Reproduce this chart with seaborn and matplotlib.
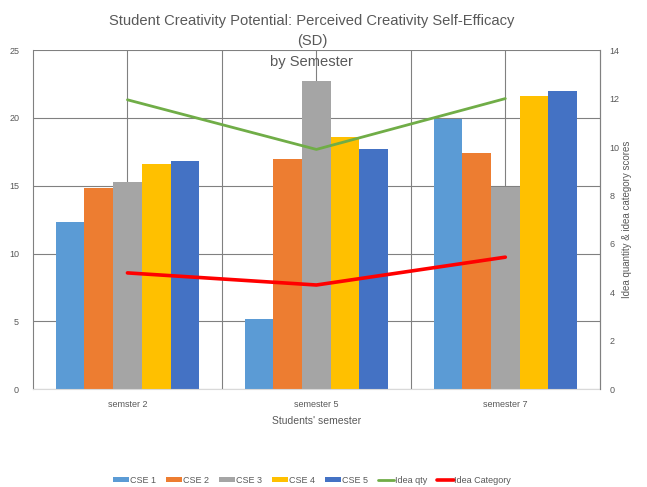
import matplotlib
matplotlib.use("Agg")
import matplotlib.pyplot as plt
from matplotlib.patches import Patch
from matplotlib.lines import Line2D
import pandas as pd
import seaborn as sns

# Semesters and perceived creativity self-efficacy (SD) per CSE item
semesters = ["semster 2", "semester 5", "semester 7"]
cse_items = ["CSE 1", "CSE 2", "CSE 3", "CSE 4", "CSE 5"]
cse1 = [12.3, 5.2, 19.9]
cse2 = [14.8, 17.0, 17.45]
cse3 = [15.3, 22.7, 14.9]
cse4 = [16.6, 18.6, 21.6]
cse5 = [16.8, 17.7, 22.0]

# Idea scores on the secondary axis
idea_qty = [11.95, 9.9, 12.0]
idea_category = [4.8, 4.3, 5.45]

bar_colors = ["#5B9BD5", "#ED7D31", "#A5A5A5", "#FFC000", "#4472C4"]
qty_color = "#70AD47"
cat_color = "#FF0000"
text_color = "#595959"
grid_color = "#808080"

rows = []
for item, vals in zip(cse_items, [cse1, cse2, cse3, cse4, cse5]):
    for sem, v in zip(semesters, vals):
        rows.append({"semester": sem, "item": item, "value": v})
df = pd.DataFrame(rows)

sns.set_style("white")
plt.rcParams["font.family"] = ["Liberation Sans", "DejaVu Sans"]

fig = plt.figure(figsize=(6.47, 4.87), dpi=100)
ax = fig.add_axes([0.051, 0.201, 0.876, 0.696])

sns.barplot(data=df, x="semester", y="value", hue="item", order=semesters,
            hue_order=cse_items, palette=bar_colors, width=0.76, gap=0,
            saturation=1, ax=ax, legend=False, zorder=2,
            linewidth=0, edgecolor="none")

ax.set_xlim(-0.5, len(semesters) - 0.5)
ax.set_ylim(0, 25)
ax.set_yticks([0, 5, 10, 15, 20, 25])
ax.set_xticks(range(len(semesters)))
ax.set_xticks([i + 0.5 for i in range(len(semesters) - 1)], minor=True)
ax.set_xticklabels(semesters)
ax.grid(True, which="both", axis="x", color=grid_color, lw=0.8, zorder=0)
ax.grid(True, which="major", axis="y", color=grid_color, lw=0.8, zorder=0)
ax.set_axisbelow(True)
ax.tick_params(axis="both", which="both", length=0, labelsize=6.5,
               labelcolor=text_color)
ax.tick_params(axis="y", pad=10)
ax.tick_params(axis="x", pad=8)
ax.set_xlabel("Students' semester", fontsize=7.5, color=text_color, labelpad=5)
ax.set_ylabel("")
ax.spines["top"].set_visible(False)
ax.spines["left"].set_color(grid_color)
ax.spines["left"].set_linewidth(0.8)
ax.spines["right"].set_color(grid_color)
ax.spines["right"].set_linewidth(0.8)
ax.spines["bottom"].set_color("#d9d9d9")
ax.spines["bottom"].set_linewidth(0.8)

ax2 = ax.twinx()
xpos = list(range(len(semesters)))
sns.lineplot(x=xpos, y=idea_qty, color=qty_color, lw=2, ax=ax2)
sns.lineplot(x=xpos, y=idea_category, color=cat_color, lw=2.6, ax=ax2)
ax2.set_ylim(0, 14)
ax2.set_yticks(range(0, 15, 2))
ax2.tick_params(axis="y", length=0, labelsize=6.5, labelcolor=text_color, pad=7)
ax2.set_ylabel("Idea quantity & idea category scores", fontsize=7,
               color=text_color, labelpad=2)
for side in ["top", "left", "bottom"]:
    ax2.spines[side].set_visible(False)
ax2.spines["right"].set_color(grid_color)
ax2.spines["right"].set_linewidth(0.8)
ax2.set_xlim(-0.5, len(semesters) - 0.5)

fig.text(0.482, 0.972,
         "Student Creativity Potential: Perceived Creativity Self-Efficacy\n(SD)\nby Semester",
         ha="center", va="top", fontsize=10.6, color=text_color, linespacing=1.6)

handles = [Patch(facecolor=c, edgecolor="none") for c in bar_colors]
handles += [Line2D([], [], color=qty_color, lw=2),
            Line2D([], [], color=cat_color, lw=2.6)]
labels = cse_items + ["Idea qty", "Idea Category"]
fig.legend(handles, labels, loc="lower center", bbox_to_anchor=(0.482, -0.012),
           ncol=7, frameon=False, fontsize=6.5, labelcolor=text_color,
           handlelength=1.8, handleheight=0.5, handletextpad=0.1,
           columnspacing=1.1)

fig.savefig("out.png", dpi=100)
